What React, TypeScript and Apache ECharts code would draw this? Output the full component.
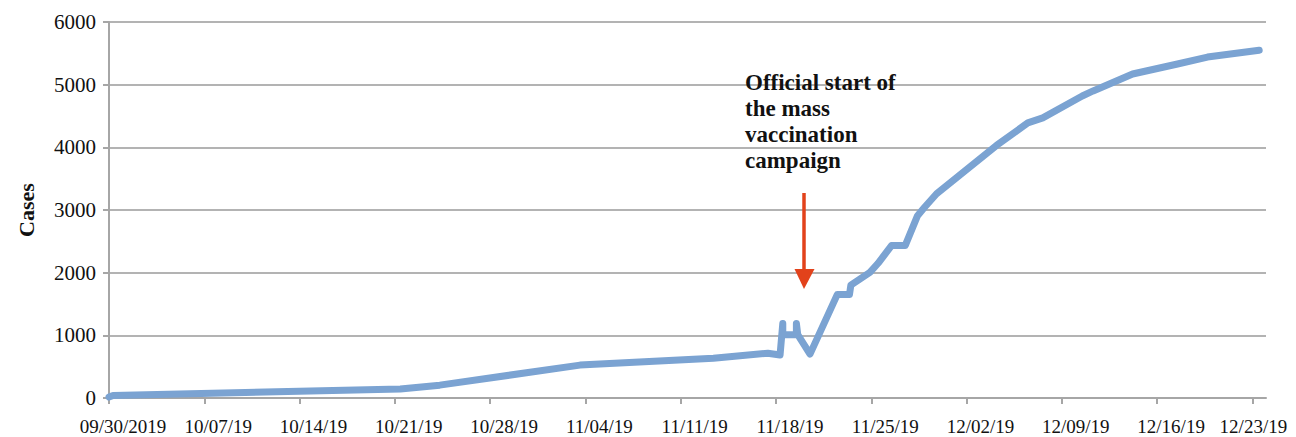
import React, { useEffect, useRef } from "react";
import * as echarts from "echarts";

// day offset from 09/30/2019
const days = [0, 0.3, 21.4, 24.3, 34.6, 44.4, 48.4, 49.3, 49.5, 49.5, 50.5, 50.5, 50.6, 51.5, 53.5, 54.4, 54.5, 55.9, 56.5, 57.5, 58.5, 59.4, 59.9, 60.8, 65.2, 67.5, 68.6, 71.5, 72.3, 75.2, 78.5, 80.7, 84.5];
const cases = [15, 40, 145, 205, 525, 635, 715, 685, 1190, 1010, 1010, 1190, 1010, 700, 1650, 1650, 1800, 2005, 2150, 2435, 2435, 2910, 3040, 3260, 4030, 4390, 4470, 4820, 4900, 5170, 5330, 5440, 5550];
const dateLabels = ["09/30/2019", "10/07/19", "10/14/19", "10/21/19", "10/28/19", "11/04/19", "11/11/19", "11/18/19", "11/25/19", "12/02/19", "12/09/19", "12/16/19", "12/23/19"];
const yTicks = [0, 1000, 2000, 3000, 4000, 5000, 6000];
const annotationLines = ["Official start of", "the mass", "vaccination", "campaign"];

const serif = "'Liberation Serif', 'Times New Roman', serif";

export default function App() {
  const ref = useRef<HTMLDivElement>(null);
  useEffect(() => {
    if (!ref.current) return;
    const chart = echarts.init(ref.current, null, { renderer: "svg" });
    const tickValues = dateLabels.map((_, i) => i * 7);
    const labelText = { fontFamily: serif, fontSize: 19, color: "#111" };
    chart.setOption({
      animation: false,
      grid: { left: 101, right: 30, top: 14, bottom: 39, containLabel: false, outerBoundsMode: "none" },
      xAxis: {
        type: "value",
        min: 0,
        max: 85,
        interval: 7,
        axisLine: { show: true, lineStyle: { color: "#a6a6a6", width: 2 } },
        axisTick: { show: true, length: 6, customValues: tickValues, lineStyle: { color: "#a6a6a6", width: 2 } },
        axisLabel: {
          customValues: tickValues,
          formatter: (v: number) => {
            const i = Math.round(v / 7);
            if (Math.abs(v - i * 7) > 1e-6 || !dateLabels[i]) return "";
            return i === dateLabels.length - 1 ? `{e|${dateLabels[i]}}` : `{s|${dateLabels[i]}}`;
          },
          ...labelText,
          margin: 19,
          rich: {
            s: { ...labelText, padding: [0, 0, 0, 28] },
            e: { ...labelText, padding: [0, 0, 0, 2] },
          },
        },
        splitLine: { show: false },
      },
      yAxis: {
        type: "value",
        min: yTicks[0],
        max: yTicks[yTicks.length - 1],
        interval: 1000,
        name: "Cases",
        nameLocation: "middle",
        nameGap: 72,
        nameTextStyle: { fontFamily: serif, fontSize: 22, fontWeight: "bold", color: "#111" },
        axisLine: { show: true, lineStyle: { color: "#a6a6a6", width: 2 } },
        axisTick: { show: true, length: 6, lineStyle: { color: "#a6a6a6", width: 2 } },
        axisLabel: { fontFamily: serif, fontSize: 21, color: "#111", margin: 13, formatter: (v: number) => String(v) },
        splitLine: { show: true, lineStyle: { color: "#b3b3b3", width: 2 } },
      },
      series: [
        {
          type: "line",
          data: days.map((d, i) => [d, cases[i]]),
          showSymbol: false,
          symbol: "none",
          lineStyle: { color: "#7ba3d2", width: 7, cap: "round", join: "round" },
          z: 3,
        },
      ],
      graphic: [
        {
          type: "text",
          left: 737,
          top: 61,
          z: 10,
          style: {
            text: annotationLines.join("\n"),
            fontFamily: serif,
            fontSize: 23,
            fontWeight: "bold",
            lineHeight: 26,
            fill: "#111",
          },
        },
        {
          type: "line",
          z: 10,
          shape: { x1: 796, y1: 185, x2: 796, y2: 263 },
          style: { stroke: "#e2421b", lineWidth: 3.5 },
        },
        {
          type: "polygon",
          z: 10,
          shape: { points: [[786.5, 261], [806.5, 261], [796, 281]] },
          style: { fill: "#e2421b" },
        },
      ],
    });
    return () => chart.dispose();
  }, []);
  return <div ref={ref} style={{ width: 1288, height: 429 }} />;
}
